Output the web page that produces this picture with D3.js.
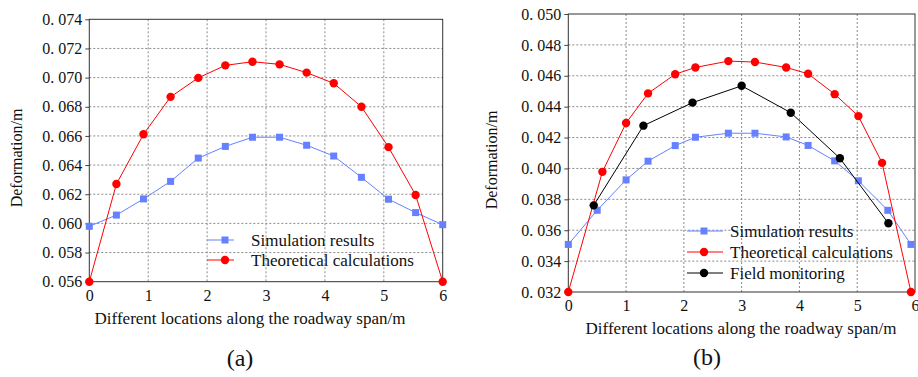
<!DOCTYPE html>
<html>
<head>
<meta charset="utf-8">
<script src="https://cdn.jsdelivr.net/npm/d3@7"></script>
<style>
  body { margin: 0; background: #fff; }
  svg text { font-family: "Liberation Serif", "Times New Roman", Times, "DejaVu Serif", serif; fill: #111; }
</style>
</head>
<body>
<div id="wrapper"></div>
<script>
// panel (a)
const spanA = [0, 0.46, 0.92, 1.38, 1.85, 2.31, 2.77, 3.23, 3.69, 4.15, 4.62, 5.08, 5.54, 6];
const simA = [0.0598, 0.06057, 0.06168, 0.06288, 0.06448, 0.06528, 0.06591, 0.06591, 0.06536, 0.06462, 0.06316, 0.06166, 0.06074, 0.05991];
const theoA = [0.056, 0.0627, 0.06611, 0.06868, 0.06998, 0.07084, 0.07109, 0.07091, 0.07034, 0.06961, 0.068, 0.06523, 0.06195, 0.056];
const yTicksA = [0.056, 0.058, 0.060, 0.062, 0.064, 0.066, 0.068, 0.070, 0.072, 0.074];

// panel (b)
const spanSimB = [0, 0.5, 1.0, 1.38, 1.85, 2.2, 2.77, 3.23, 3.77, 4.15, 4.61, 5.02, 5.53, 5.93];
const simB = [0.03508, 0.03729, 0.03926, 0.04047, 0.04148, 0.04202, 0.04228, 0.04228, 0.04204, 0.04149, 0.04049, 0.0392, 0.03729, 0.03508];
const spanTheoB = [0, 0.59, 1.0, 1.38, 1.85, 2.2, 2.77, 3.23, 3.77, 4.15, 4.61, 5.02, 5.43, 5.93];
const theoB = [0.032, 0.03978, 0.04294, 0.04486, 0.0461, 0.04654, 0.04695, 0.04689, 0.04654, 0.04613, 0.04481, 0.04339, 0.04036, 0.032];
const spanFieldB = [0.44, 1.30, 2.15, 3.0, 3.85, 4.70, 5.54];
const fieldB = [0.03761, 0.04277, 0.04426, 0.04535, 0.04361, 0.04066, 0.03645];
const yTicksB = [0.032, 0.034, 0.036, 0.038, 0.040, 0.042, 0.044, 0.046, 0.048, 0.050];

const xTicks = [0, 1, 2, 3, 4, 5, 6];
const legendNames = ["Simulation results", "Theoretical calculations", "Field monitoring"];

const simColor = "#6680ff";
const theoColor = "#ff0000";
const fieldColor = "#000000";
const serif = "'Liberation Serif', 'Times New Roman', Times, 'DejaVu Serif', serif";

const svg = d3.select("#wrapper")
    .append("svg")
    .attr("width", 918)
    .attr("height", 377);

const tickFormat = d => "0. " + d3.format(".3f")(d).slice(2);

function drawPanel(p) {
    const xScale = d3.scaleLinear().domain([0, 6]).range([p.left, p.right]);
    const yScale = d3.scaleLinear().domain(p.yDomain).range([p.bottom, p.top]);

    const g = svg.append("g");

    // grid
    g.append("g")
        .selectAll("line")
        .data(p.yTicks.slice(1, -1))
        .join("line")
        .attr("x1", p.left).attr("x2", p.right)
        .attr("y1", d => yScale(d)).attr("y2", d => yScale(d))
        .attr("stroke", "#8a8a8a")
        .attr("stroke-dasharray", "2,2");
    g.append("g")
        .selectAll("line")
        .data(xTicks.slice(1, -1))
        .join("line")
        .attr("y1", p.top).attr("y2", p.bottom)
        .attr("x1", d => xScale(d)).attr("x2", d => xScale(d))
        .attr("stroke", "#8a8a8a")
        .attr("stroke-dasharray", "2,2");

    // axes
    const yAxis = g.append("g")
        .attr("transform", `translate(${p.left},0)`)
        .call(d3.axisLeft(yScale).tickValues(p.yTicks).tickFormat(tickFormat).tickSize(4).tickPadding(3));
    yAxis.attr("font-family", null);
    yAxis.select(".domain").remove();
    yAxis.selectAll("line").attr("stroke", "#444");
    yAxis.selectAll("text")
        .attr("font-size", 16)
        .style("font-family", serif)
        .attr("fill", "#222");

    const xAxis = g.append("g")
        .attr("transform", `translate(0,${p.bottom})`)
        .call(d3.axisBottom(xScale).tickValues(xTicks).tickFormat(d3.format("d")).tickSize(0).tickPadding(8));
    xAxis.attr("font-family", null);
    xAxis.select(".domain").remove();
    xAxis.selectAll("text")
        .attr("font-size", 16)
        .style("font-family", serif)
        .attr("fill", "#222");

    // frame
    g.append("rect")
        .attr("x", p.left).attr("y", p.top)
        .attr("width", p.right - p.left)
        .attr("height", p.bottom - p.top)
        .attr("fill", "none")
        .attr("stroke", "#333")
        .attr("stroke-width", 1);

    // series
    const line = d3.line().x(d => xScale(d[0])).y(d => yScale(d[1]));
    p.series.forEach(s => {
        const pts = d3.zip(s.x, s.y);
        g.append("path")
            .datum(pts)
            .attr("d", line)
            .attr("fill", "none")
            .attr("stroke", s.color)
            .attr("stroke-width", 1);
        if (s.shape === "square") {
            g.append("g").selectAll("rect")
                .data(pts)
                .join("rect")
                .attr("x", d => xScale(d[0]) - 3.5)
                .attr("y", d => yScale(d[1]) - 3.5)
                .attr("width", 7).attr("height", 7)
                .attr("fill", s.color);
        } else {
            g.append("g").selectAll("circle")
                .data(pts)
                .join("circle")
                .attr("cx", d => xScale(d[0]))
                .attr("cy", d => yScale(d[1]))
                .attr("r", 4.2)
                .attr("fill", s.color);
        }
    });

    // legend
    p.series.forEach((s, i) => {
        const ly = p.legend.y + i * p.legend.gap;
        const lg = g.append("g");
        lg.append("line")
            .attr("x1", p.legend.x1).attr("x2", p.legend.x2)
            .attr("y1", ly).attr("y2", ly)
            .attr("stroke", s.color);
        const mx = p.legend.mx;
        if (s.shape === "square") {
            lg.append("rect")
                .attr("x", mx - 3.5).attr("y", ly - 3.5)
                .attr("width", 7).attr("height", 7)
                .attr("fill", s.color);
        } else {
            lg.append("circle")
                .attr("cx", mx).attr("cy", ly).attr("r", 4.2)
                .attr("fill", s.color);
        }
        lg.append("text")
            .attr("x", p.legend.tx)
            .attr("y", ly)
            .attr("dy", "0.35em")
            .attr("font-size", 17)
            .style("font-family", serif)
            .text(s.name);
    });

    // titles
    g.append("text")
        .attr("x", p.xTitleX)
        .attr("y", p.bottom + 42)
        .attr("text-anchor", "middle")
        .attr("font-size", 17)
        .style("font-family", serif)
        .text("Different locations along the roadway span/m");

    g.append("text")
        .attr("transform", `translate(${p.yTitleX},${p.yTitleY}) rotate(-90)`)
        .attr("text-anchor", "middle")
        .attr("font-size", 16)
        .style("font-family", serif)
        .text("Deformation/m");

    g.append("text")
        .attr("x", p.labelX)
        .attr("y", p.labelY)
        .attr("text-anchor", "middle")
        .attr("dy", "0.35em")
        .attr("font-size", 24)
        .style("font-family", serif)
        .text(p.label);
}

drawPanel({
    left: 89.3, right: 442.7, top: 19.3, bottom: 281.7,
    yDomain: [0.056, 0.074], yTicks: yTicksA,
    series: [
        {x: spanA, y: simA, color: simColor, shape: "square", name: legendNames[0]},
        {x: spanA, y: theoA, color: theoColor, shape: "circle", name: legendNames[1]}
    ],
    legend: {x1: 207, x2: 234, mx: 225, tx: 251, y: 240, gap: 20},
    xTitleX: 250, yTitleX: 22, yTitleY: 158,
    label: "(a)", labelX: 240, labelY: 358
});

drawPanel({
    left: 568.3, right: 915, top: 14, bottom: 292,
    yDomain: [0.032, 0.050], yTicks: yTicksB,
    series: [
        {x: spanSimB, y: simB, color: simColor, shape: "square", name: legendNames[0]},
        {x: spanTheoB, y: theoB, color: theoColor, shape: "circle", name: legendNames[1]},
        {x: spanFieldB, y: fieldB, color: fieldColor, shape: "circle", name: legendNames[2]}
    ],
    legend: {x1: 687, x2: 723, mx: 704, tx: 730, y: 231, gap: 21},
    xTitleX: 741, yTitleX: 497, yTitleY: 160,
    label: "(b)", labelX: 707, labelY: 357
});
</script>
</body>
</html>
